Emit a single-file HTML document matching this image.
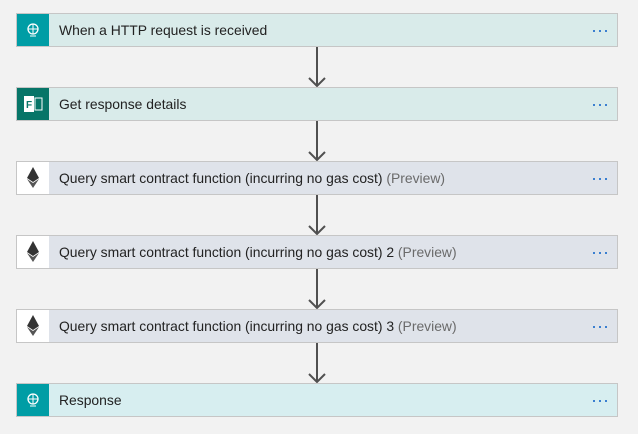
<!DOCTYPE html>
<html><head><style>
body{margin:0;width:638px;height:434px;background:#f2f2f2;position:relative;font-family:"Liberation Sans",sans-serif;overflow:hidden}
.c{position:absolute;left:16px;width:600px;height:32px;border:1px solid #c6c6c6;box-sizing:content-box}
.i{position:absolute;left:0;top:0;width:32px;height:32px;display:flex;align-items:center;justify-content:center}
.t{position:absolute;left:42px;top:0;line-height:33px;font-size:13.9px;color:#222}
.t span{color:#6a6a6a}
.d{position:absolute;right:8px;top:10px;width:16px;height:12px}
.d i{position:absolute;top:6px;width:2px;height:2px;background:#3b7fd0}
.a{position:absolute;left:316px;width:2px;background:#505050}
.g{background:#d9ebea}.e{background:#dfe3ea}.r{background:#d7eef0}
</style></head><body>
<svg width="638" height="434" style="position:absolute;left:0;top:0">
<g stroke="#505050" stroke-width="2" fill="none">
<path d="M317 47V86M309 78l8 8 8-8"/>
<path d="M317 121V160M309 152l8 8 8-8"/>
<path d="M317 195V234M309 226l8 8 8-8"/>
<path d="M317 269V308M309 300l8 8 8-8"/>
<path d="M317 343V382M309 374l8 8 8-8"/>
</g></svg>
<div class="c g" style="top:13px"><div class="i" style="background:#009da5"><svg width="16" height="16"><circle cx="8" cy="7" r="5" fill="none" stroke="#fff" stroke-width="1.3"/><path d="M3 7h10M8 2v10M5 14h6" stroke="#fff" stroke-width="1"/></svg></div><div class="t">When a HTTP request is received</div><div class="d"><i style="left:0"></i><i style="left:6px"></i><i style="left:12px"></i></div></div>
<div class="c g" style="top:87px"><div class="i" style="background:#077568"><svg width="22" height="22"><rect x="2" y="3" width="10" height="16" fill="#fff"/><text x="4" y="15" font-size="10" font-weight="bold" fill="#077568" font-family="Liberation Sans">F</text><rect x="13" y="5" width="7" height="12" fill="none" stroke="#fff"/></svg></div><div class="t">Get response details</div><div class="d"><i style="left:0"></i><i style="left:6px"></i><i style="left:12px"></i></div></div>
<div class="c e" style="top:161px"><div class="i" style="background:#fff"><svg width="16" height="24"><path d="M8 1L2 12l6 4 6-4z" fill="#333"/><path d="M8 17l-6-4 6 9 6-9z" fill="#555"/></svg></div><div class="t">Query smart contract function (incurring no gas cost) <span>(Preview)</span></div><div class="d"><i style="left:0"></i><i style="left:6px"></i><i style="left:12px"></i></div></div>
<div class="c e" style="top:235px"><div class="i" style="background:#fff"><svg width="16" height="24"><path d="M8 1L2 12l6 4 6-4z" fill="#333"/><path d="M8 17l-6-4 6 9 6-9z" fill="#555"/></svg></div><div class="t">Query smart contract function (incurring no gas cost) 2 <span>(Preview)</span></div><div class="d"><i style="left:0"></i><i style="left:6px"></i><i style="left:12px"></i></div></div>
<div class="c e" style="top:309px"><div class="i" style="background:#fff"><svg width="16" height="24"><path d="M8 1L2 12l6 4 6-4z" fill="#333"/><path d="M8 17l-6-4 6 9 6-9z" fill="#555"/></svg></div><div class="t">Query smart contract function (incurring no gas cost) 3 <span>(Preview)</span></div><div class="d"><i style="left:0"></i><i style="left:6px"></i><i style="left:12px"></i></div></div>
<div class="c r" style="top:383px"><div class="i" style="background:#009da5"><svg width="16" height="16"><circle cx="8" cy="7" r="5" fill="none" stroke="#fff" stroke-width="1.3"/><path d="M3 7h10M8 2v10M5 14h6" stroke="#fff" stroke-width="1"/></svg></div><div class="t">Response</div><div class="d"><i style="left:0"></i><i style="left:6px"></i><i style="left:12px"></i></div></div>
</body></html>
